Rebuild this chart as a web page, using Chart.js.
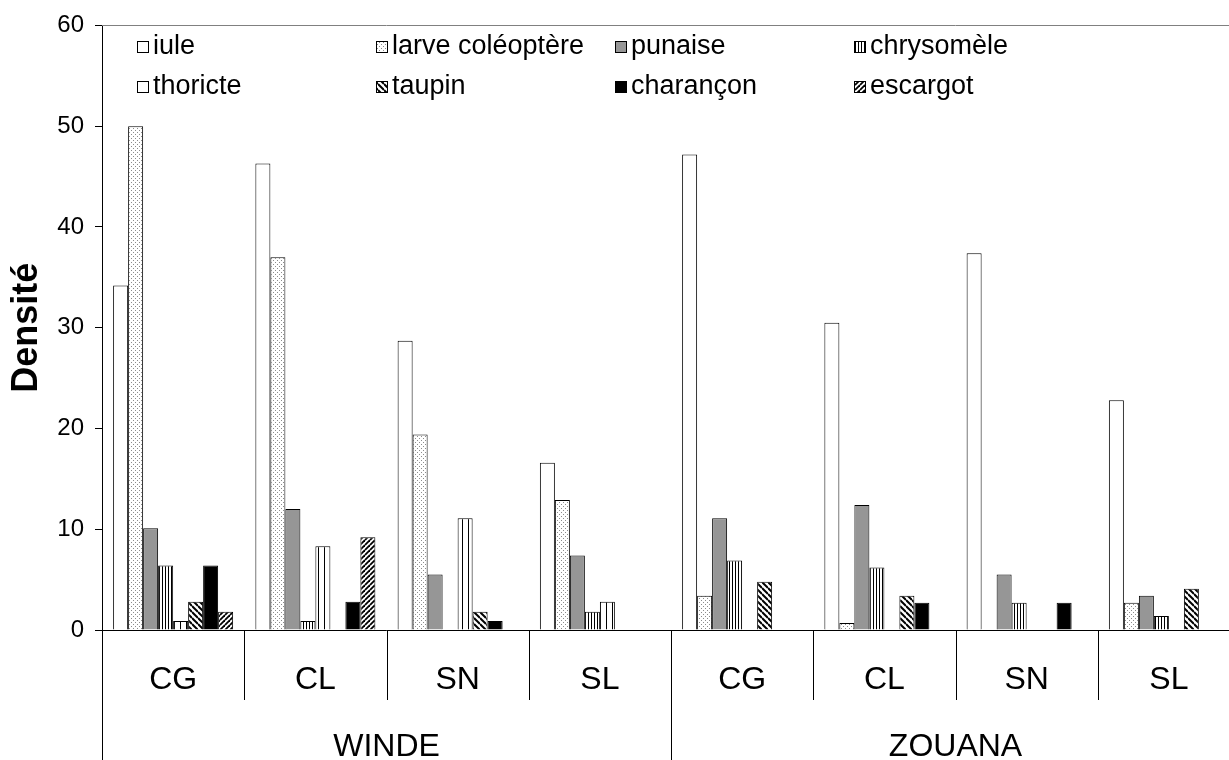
<!DOCTYPE html>
<html>
<head>
<meta charset="utf-8">
<script src="https://cdn.jsdelivr.net/npm/chart.js@4.4.1/dist/chart.umd.min.js"></script>
<style>
  html, body { margin: 0; padding: 0; background: #fff; overflow: hidden; }
  #wrap { width: 1240px; height: 760px; }
</style>
</head>
<body>
<div id="wrap"><canvas id="chart" width="1240" height="760"></canvas></div>
<script>
const categories = ["CG", "CL", "SN", "SL", "CG", "CL", "SN", "SL"];
const sites = ["WINDE", "ZOUANA"];
const sitesSpan = [4, 4];

const yTicks = [0, 10, 20, 30, 40, 50, 60];

const iule = [34.2, 46.3, 28.7, 16.6, 47.2, 30.5, 37.4, 22.8];
const larve = [50, 37, 19.4, 12.9, 3.4, 0.7, 0, 2.7];
const punaise = [10.1, 12.0, 5.5, 7.4, 11.1, 12.4, 5.5, 3.4];
const chrysomele = [6.4, 0.9, 0, 1.8, 6.9, 6.2, 2.7, 1.4];
const thoricte = [0.9, 8.3, 11.1, 2.8, 0, 0, 0, 0];
const taupin = [2.8, 0, 1.8, 0, 4.8, 3.4, 0, 4.1];
const charancon = [6.4, 2.8, 0.9, 0, 0, 2.7, 2.7, 0];
const escargot = [1.8, 9.2, 0, 0, 0, 0, 0, 0];

const FONT = "'Liberation Sans', Arial, sans-serif";

// small pattern tiles, like the Excel fills
function tile(w, h, draw) {
  const c = document.createElement("canvas");
  c.width = w;
  c.height = h;
  const g = c.getContext("2d");
  g.fillStyle = "#fff";
  g.fillRect(0, 0, w, h);
  draw(g, w, h);
  return document.getElementById("chart").getContext("2d").createPattern(c, "repeat");
}

function dots() {
  return tile(4, 4, g => {
    g.fillStyle = "#8c8c8c";
    g.fillRect(1, 0, 1, 1);
    g.fillRect(3, 2, 1, 1);
  });
}

function vlines(step) {
  return tile(step, 1, g => {
    g.fillStyle = "#000";
    g.fillRect(0, 0, 1, 1);
  });
}

function diag(s, lw, back) {
  return tile(s, s, g => {
    g.strokeStyle = "#000";
    g.lineWidth = lw;
    for (let k = -1; k <= 1; k++) {
      g.beginPath();
      if (back) {
        g.moveTo(0, k * s);
        g.lineTo(s, s + k * s);
      } else {
        g.moveTo(0, s + k * s);
        g.lineTo(s, k * s);
      }
      g.stroke();
    }
  });
}

const series = [
  { label: "iule", data: iule, fill: "#fff" },
  { label: "larve coléoptère", data: larve, fill: dots() },
  { label: "punaise", data: punaise, fill: "#969696" },
  { label: "chrysomèle", data: chrysomele, fill: vlines(3) },
  { label: "thoricte", data: thoricte, fill: vlines(6), legendFill: "#fff" },
  { label: "taupin", data: taupin, fill: diag(6, 2, true) },
  { label: "charançon", data: charancon, fill: "#000" },
  { label: "escargot", data: escargot, fill: diag(5, 1.8, false) }
];

const legendCols = [137, 376, 615, 854];
const legendRows = [46, 86];

const decorPlugin = {
  id: "decor",
  afterDraw(chart) {
    const ctx = chart.ctx;
    const area = chart.chartArea;
    const x = chart.scales.x;
    const w = (area.right - area.left) / categories.length;

    ctx.save();

    // top frame line
    ctx.strokeStyle = "#808080";
    ctx.lineWidth = 1;
    ctx.beginPath();
    ctx.moveTo(area.left, Math.round(area.top) + 0.5);
    ctx.lineTo(area.right, Math.round(area.top) + 0.5);
    ctx.stroke();

    // category labels and separators
    ctx.fillStyle = "#000";
    ctx.strokeStyle = "#000";
    ctx.font = "32px " + FONT;
    ctx.textAlign = "center";
    ctx.textBaseline = "middle";
    categories.forEach((c, i) => {
      const cx = x.getPixelForValue(i);
      ctx.fillText(c, cx, 680);
      if (i > 0) {
        const bx = Math.round(cx - w / 2) + 0.5;
        ctx.beginPath();
        ctx.moveTo(bx, area.bottom);
        ctx.lineTo(bx, 700);
        ctx.stroke();
      }
    });

    // site labels with long separators
    let start = 0;
    sites.forEach((s, j) => {
      const x0 = area.left + start * w;
      const x1 = x0 + sitesSpan[j] * w;
      [x0, x1].forEach(bx => {
        ctx.beginPath();
        ctx.moveTo(Math.round(bx) + 0.5, area.bottom);
        ctx.lineTo(Math.round(bx) + 0.5, 760);
        ctx.stroke();
      });
      ctx.textBaseline = "alphabetic";
      ctx.fillText(s, (x0 + x1) / 2, 756);
      start += sitesSpan[j];
    });

    // legend
    ctx.font = "27px " + FONT;
    ctx.textAlign = "left";
    ctx.textBaseline = "middle";
    chart.data.datasets.forEach((ds, i) => {
      const lx = legendCols[i % 4];
      const ly = legendRows[Math.floor(i / 4)];
      ctx.fillStyle = ds.legendFill || ds.backgroundColor;
      ctx.fillRect(lx, ly - 5, 12, 12);
      ctx.strokeStyle = "#000";
      ctx.strokeRect(lx + 0.5, ly - 4.5, 11, 11);
      ctx.fillStyle = "#000";
      ctx.fillText(ds.label, lx + 16, ly + 1);
    });

    ctx.restore();
  }
};

new Chart(document.getElementById("chart"), {
  type: "bar",
  data: {
    labels: categories,
    datasets: series.map(s => ({
      label: s.label,
      data: s.data,
      backgroundColor: s.fill,
      legendFill: s.legendFill,
      borderColor: "#000",
      borderWidth: 1,
      borderSkipped: "start",
      categoryPercentage: 0.8436,
      barPercentage: 1
    }))
  },
  options: {
    responsive: false,
    animation: false,
    devicePixelRatio: 1,
    layout: { padding: { top: 22, right: 0, left: 0, bottom: 0 } },
    plugins: {
      legend: { display: false },
      tooltip: { enabled: false }
    },
    scales: {
      x: {
        grid: { display: false },
        border: { display: true, color: "#000", width: 1 },
        ticks: { display: false },
        afterFit: s => { s.height = 130; }
      },
      y: {
        min: 0,
        max: 60,
        afterBuildTicks: s => { s.ticks = yTicks.map(v => ({ value: v })); },
        ticks: {
          color: "#000",
          font: { family: FONT, size: 24 },
          padding: 11
        },
        grid: {
          drawOnChartArea: false,
          drawTicks: true,
          tickLength: 7,
          color: "#000"
        },
        border: { display: true, color: "#000", width: 1 },
        title: {
          display: true,
          text: "Densité",
          color: "#000",
          font: { family: FONT, size: 36, weight: "bold" },
          padding: { top: 5, bottom: 0 }
        },
        afterFit: s => { s.width = 102; }
      }
    }
  },
  plugins: [decorPlugin]
});
</script>
</body>
</html>
